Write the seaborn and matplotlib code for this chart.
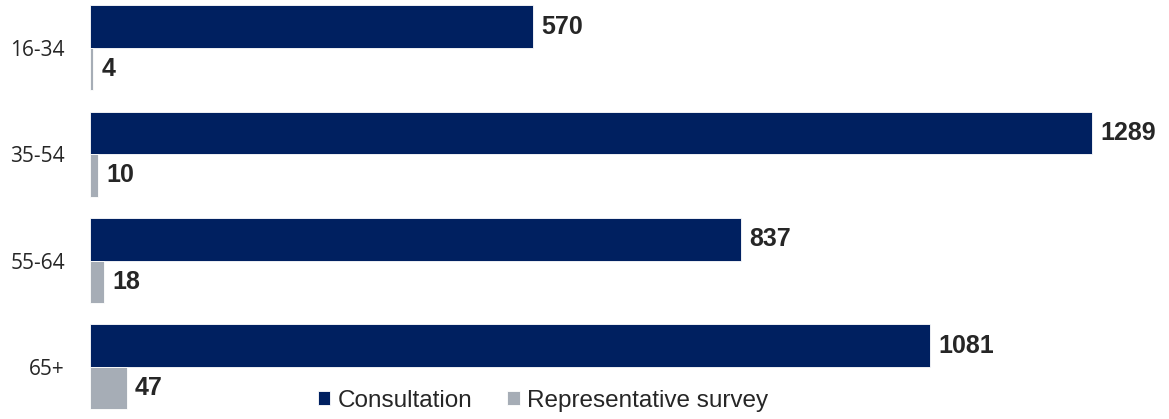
import pandas as pd
import matplotlib.pyplot as plt
import seaborn as sns

# --- DATA ---
age_groups = ['16-34', '35-54', '55-64', '65+']
consultation = [570, 1289, 837, 1081]
survey = [4, 10, 18, 47]
series_names = ['Consultation', 'Representative survey']

df = pd.DataFrame({
    'age': age_groups * 2,
    'value': consultation + survey,
    'source': [series_names[0]] * len(age_groups) + [series_names[1]] * len(age_groups),
})

navy = '#002060'
grey = '#A6ADB6'

sns.set_theme(style='white')
plt.rcParams['font.family'] = ['Liberation Sans', 'DejaVu Sans']

fig = plt.figure(figsize=(11.69, 4.19), dpi=100)
ax = fig.add_axes([90 / 1169, 0, 1 - 90 / 1169, 1])

sns.barplot(data=df, y='age', x='value', hue='source', orient='h',
            palette=[navy, grey], width=0.8, gap=0, saturation=1,
            edgecolor='white', linewidth=0.6, ax=ax, legend=True)

# value labels
for cont in ax.containers:
    ax.bar_label(cont, padding=6, fontsize=18, fontweight='bold', color='#262626')

ax.set_xlim(0, 1388)
ax.set_ylim(3.49, -0.45)
ax.set_xlabel('')
ax.set_ylabel('')
ax.set_xticks([])
ax.tick_params(axis='y', length=0, pad=18)
for lab in ax.get_yticklabels():
    lab.set_fontfamily('Open Sans')
    lab.set_fontsize(15)
    lab.set_color('#262626')
for s in ax.spines.values():
    s.set_visible(False)

handles, labels = ax.get_legend_handles_labels()
ax.legend_.remove()
fig.legend(handles, labels, loc='center', bbox_to_anchor=(543 / 1169, 0.043),
           ncol=2, frameon=False, fontsize=17.5, handlelength=0.5, handleheight=0.5,
           handletextpad=0.3, columnspacing=1.45, labelcolor='#262626')

fig.savefig('out.png', dpi=100)
